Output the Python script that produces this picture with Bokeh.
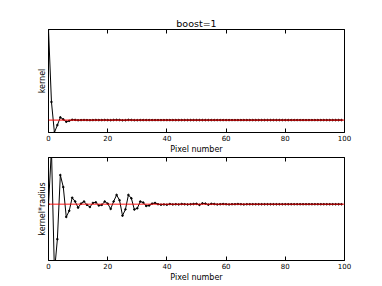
from bokeh.plotting import figure
from bokeh.models import Range1d, LinearAxis, FixedTicker, Title, Span
from bokeh.layouts import column
from bokeh.embed import file_html
from bokeh.resources import INLINE

pixel = list(range(100))

kernel = [1.0, 0.20, -0.137, -0.055, 0.030, 0.008, -0.018, -0.008, 0.004, 0.002,
          -0.002, 0.0, 0.001, 0.0, -0.001, 0.0, 0.001, 0.0, 0.0, 0.001,
          0.0, -0.001, 0.001, 0.002, 0.001, -0.002, -0.001, 0.002, 0.001, -0.001,
          -0.001, 0.0, 0.0, 0.0, 0.0, 0.0, 0.0, 0.0, 0.0, 0.0,
          0.0, 0.0, 0.0, 0.0, 0.0, 0.0, 0.0, 0.0, 0.0, 0.0,
          0.0, 0.0, 0.0, 0.0, 0.0, 0.0, 0.0, 0.0, 0.0, 0.0,
          0.0, 0.0, 0.0, 0.0, 0.0, 0.0, 0.0, 0.0, 0.0, 0.0,
          0.0, 0.0, 0.0, 0.0, 0.0, 0.0, 0.0, 0.0, 0.0, 0.0,
          0.0, 0.0, 0.0, 0.0, 0.0, 0.0, 0.0, 0.0, 0.0, 0.0,
          0.0, 0.0, 0.0, 0.0, 0.0, 0.0, 0.0, 0.0, 0.0, 0.0]

kernel_radius = [0.0, 0.26, -0.32, -0.165, 0.138, 0.081, -0.060, -0.031, 0.031, 0.013,
                 -0.016, 0.003, 0.013, -0.003, -0.013, 0.006, 0.009, -0.006, -0.003, 0.013,
                 0.003, -0.022, 0.013, 0.044, 0.019, -0.054, -0.024, 0.044, 0.028, -0.025,
                 -0.019, 0.013, 0.008, -0.008, -0.006, 0.003, 0.006, 0.0, -0.002, -0.001,
                 -0.002, 0.001, -0.001, 0.0, -0.001, 0.001, 0.0, -0.001, 0.0, 0.001,
                 0.002, -0.003, 0.004, 0.003, -0.002, 0.002, 0.001, -0.001, 0.0, 0.001,
                 0.0, -0.001, 0.0, 0.0, 0.001, 0.0, -0.001, 0.0, 0.0, 0.0,
                 0.0, 0.0, 0.0, 0.0, 0.0, 0.0, 0.0, 0.0, 0.0, 0.0,
                 0.0, 0.0, 0.0, 0.0, 0.0, 0.0, 0.0, 0.0, 0.0, 0.0,
                 0.0, 0.0, 0.0, 0.0, 0.0, 0.0, 0.0, 0.0, 0.0, 0.0]

x_ticks = [0, 20, 40, 60, 80, 100]
title_text = "boost=1"
x_label = "Pixel number"
y_labels = ["kernel", "kernel*radius"]

FONT = "DejaVu Sans"


def make_fig(ys, ylabel, yr, top_border, ref_alpha, ref_width):
    p = figure(frame_width=296, frame_height=103,
               x_range=Range1d(0, 100), y_range=Range1d(*yr),
               output_backend="svg", toolbar_location=None,
               min_border_left=48, min_border_right=16,
               min_border_top=top_border, min_border_bottom=0,
               background_fill_color="white", border_fill_color="white")
    p.grid.visible = False
    p.outline_line_color = "black"
    p.outline_line_width = 1
    p.outline_line_alpha = 1

    # bottom axis
    xa = p.xaxis[0]
    xa.ticker = FixedTicker(ticks=x_ticks)
    xa.major_tick_in = 4
    xa.major_tick_out = 0
    xa.minor_tick_line_color = None
    xa.axis_line_color = "black"
    xa.major_label_standoff = 2
    xa.major_label_text_font = FONT
    xa.major_label_text_font_size = "7px"
    xa.major_label_text_color = "black"
    xa.axis_label = x_label
    xa.axis_label_standoff = 1
    xa.axis_label_text_font = FONT
    xa.axis_label_text_font_size = "8px"
    xa.axis_label_text_font_style = "normal"
    xa.axis_label_text_color = "black"

    # top ticks (no labels)
    ta = LinearAxis(ticker=FixedTicker(ticks=x_ticks))
    ta.major_tick_in = 4
    ta.major_tick_out = 0
    ta.minor_tick_line_color = None
    ta.axis_line_color = "black"
    ta.major_label_overrides = {t: "" for t in x_ticks}
    ta.major_label_standoff = 0
    p.add_layout(ta, "above")

    ya = p.yaxis[0]
    ya.ticker = FixedTicker(ticks=[])
    ya.major_tick_line_color = None
    ya.minor_tick_line_color = None
    ya.axis_line_color = None
    ya.axis_label = ylabel
    ya.axis_label_standoff = 2
    ya.axis_label_text_font = FONT
    ya.axis_label_text_font_size = "8px"
    ya.axis_label_text_font_style = "normal"
    ya.axis_label_text_color = "black"

    p.line(pixel, ys, line_color="black", line_width=1)
    p.scatter(pixel, ys, size=1.6, color="black")
    p.add_layout(Span(location=0, dimension="width", line_color="red",
                      line_width=ref_width, line_alpha=ref_alpha))
    return p


p1 = make_fig(kernel, y_labels[0], (-0.137, 1.0), 29, 1.0, 1)
t = Title(text=title_text, align="center", text_font=FONT,
          text_font_size="9.5px", text_font_style="normal",
          text_color="black", standoff=1)
p1.add_layout(t, "above")

p2 = make_fig(kernel_radius, y_labels[1], (-0.266, 0.221), 1, 0.6, 1.5)

layout = column(p1, p2, spacing=0)

open("out.html", "w").write(file_html(layout, INLINE))
